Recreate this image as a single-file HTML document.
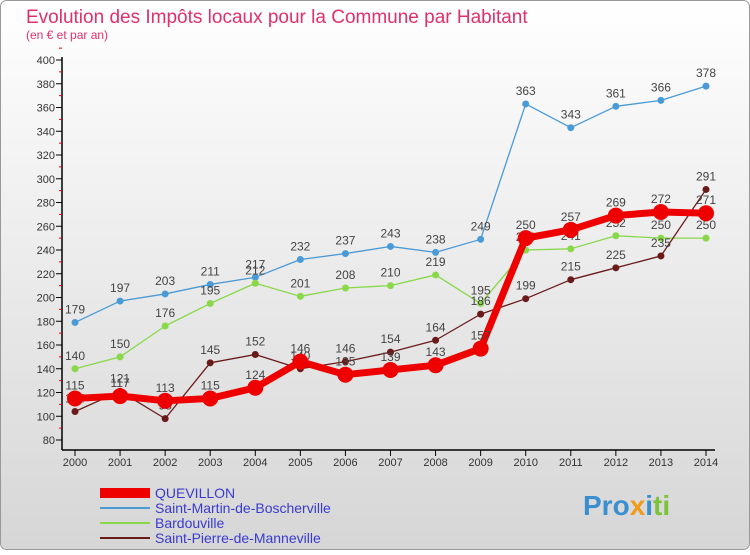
<!DOCTYPE html>
<html><head><meta charset="utf-8"><style>
body{margin:0;}
#wrap{width:750px;height:550px;position:relative;font-family:"Liberation Sans","DejaVu Sans",sans-serif;}
</style></head><body>
<div id="wrap">
<svg id="svg" width="750" height="550" xmlns="http://www.w3.org/2000/svg">
<defs><linearGradient id="bg" x1="0" y1="0" x2="0" y2="1"><stop offset="0" stop-color="#ffffff"/><stop offset="1" stop-color="#d6d6d6"/></linearGradient></defs>
<rect x="0.5" y="0.5" width="749" height="549" rx="6" fill="url(#bg)" stroke="#999"/>
<text x="26" y="23" font-size="19" fill="#e0306a">Evolution des Impôts locaux pour la Commune par Habitant</text>
<text x="26" y="39" font-size="12" fill="#e0306a">(en € et par an)</text>
<g id="axes"></g><g id="series"></g><g id="legend"></g>
<text x="583" y="515" font-size="28" font-weight="bold"><tspan fill="#3a8fd0">Pro</tspan><tspan fill="#f29a1a">x</tspan><tspan fill="#3a8fd0">i</tspan><tspan fill="#7cc23a">ti</tspan></text>
</svg>
</div>
<script>
const years=[2000,2001,2002,2003,2004,2005,2006,2007,2008,2009,2010,2011,2012,2013,2014];
const yTicks=[80,100,120,140,160,180,200,220,240,260,280,300,320,340,360,380,400];
const quevillon=[115,117,113,115,124,146,135,139,143,157,250,257,269,272,271];
const saintMartin=[179,197,203,211,217,232,237,243,238,249,363,343,361,366,378];
const bardouville=[140,150,176,195,212,201,208,210,219,195,240,241,252,250,250];
const saintPierre=[104,121,98,145,152,140,146,154,164,186,199,215,225,235,291];
const NS="http://www.w3.org/2000/svg";
function X(i){return 75+i*(706-75)/(years.length-1);}
function Y(v){return 440-(v-80)*(380/320);}
function mk(tag,attrs,parent,txt){const e=document.createElementNS(NS,tag);for(const k in attrs)e.setAttribute(k,attrs[k]);if(txt!=null)e.textContent=txt;parent.appendChild(e);return e;}
const axes=document.getElementById('axes');
const a1=mk('line',{x1:62,y1:57,x2:62,y2:450,stroke:'#000','stroke-width':1.5},axes);


const a2=mk('line',{x1:62,y1:450,x2:715,y2:450,stroke:'#000','stroke-width':1.5},axes);


yTicks.forEach(v=>{
  mk('line',{x1:56,y1:Y(v),x2:62,y2:Y(v),stroke:'#000'},axes);
  mk('line',{x1:59,y1:Y(v+10),x2:62,y2:Y(v+10),stroke:'#e00'},axes);
  const t=mk('text',{x:55,y:Y(v)+4,'font-size':11,'text-anchor':'end',fill:'#333'},axes,v);
  
  
});
years.forEach((yr,i)=>{
  mk('line',{x1:X(i),y1:450,x2:X(i),y2:456,stroke:'#000'},axes);
  const t=mk('text',{x:X(i),y:466,'font-size':11,'text-anchor':'middle',fill:'#333'},axes,yr);
  
  
});
const series=[
 {name:'saint-martin',data:saintMartin,color:'#4a9ad6',w:1.3,r:3.5},
 {name:'bardouville',data:bardouville,color:'#88d84a',w:1.3,r:3.5},
 {name:'saint-pierre',data:saintPierre,color:'#6b1a1a',w:1.3,r:3.5},
 {name:'quevillon',data:quevillon,color:'#ee0000',w:7,r:8}
];
const sg=document.getElementById('series');
series.forEach(s=>{
  const g=mk('g',{},sg);
  
  
  const pts=s.data.map((v,i)=>X(i)+','+Y(v)).join(' ');
  const pl=mk('polyline',{points:pts,fill:'none',stroke:s.color,'stroke-width':s.w,'stroke-linejoin':'round'},g);
  
  
  s.data.forEach((v,i)=>{
    const c=mk('circle',{cx:X(i),cy:Y(v),r:s.r,fill:s.color},g);
    
    
    const t=mk('text',{x:X(i),y:Y(v)-9,'font-size':12,'text-anchor':'middle',fill:'#444'},g,v);
    
    
  });
});
const lg=document.getElementById('legend');
const legendItems=[['QUEVILLON','#ee0000',10],['Saint-Martin-de-Boscherville','#4a9ad6',2],['Bardouville','#88d84a',2],['Saint-Pierre-de-Manneville','#6b1a1a',2]];
legendItems.forEach((it,i)=>{
  const y=493+i*15;
  const l=mk('line',{x1:100,y1:y,x2:150,y2:y,stroke:it[1],'stroke-width':it[2]},lg);
  
  
  const t=mk('text',{x:155,y:y+5,'font-size':14,fill:'#3a3ad0'},lg,it[0]);
  
  
});
</script>
</body></html>
